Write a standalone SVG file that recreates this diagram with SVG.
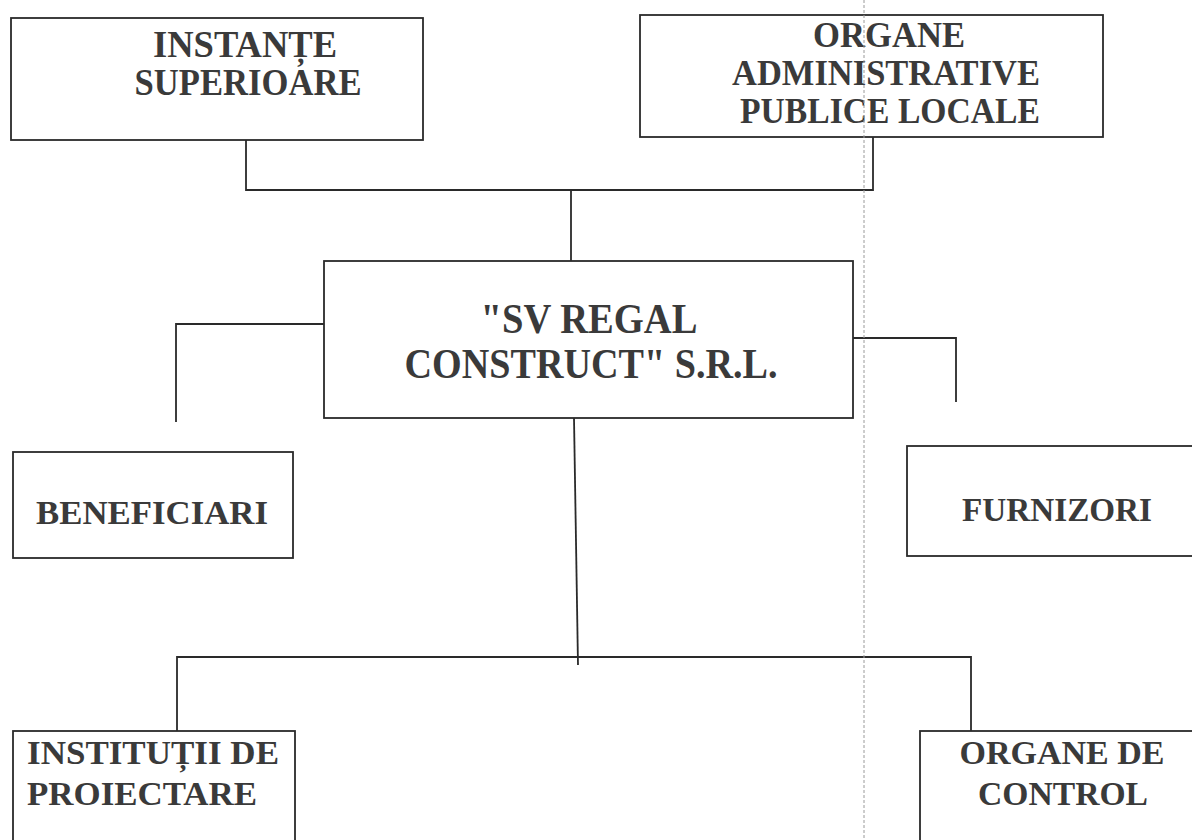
<svg xmlns="http://www.w3.org/2000/svg" width="1192" height="840" viewBox="0 0 1192 840">
<style>
.box{fill:#fff;stroke:#2a2a2a;stroke-width:1.8}
.ln{fill:none;stroke:#2a2a2a;stroke-width:1.8}
.fold{fill:none;stroke:#9a9a9a;stroke-width:1;stroke-dasharray:3 2}
text{font-family:"Liberation Serif","Times New Roman",serif;font-weight:bold;fill:#3a3a3a}
</style>
<rect width="1192" height="840" fill="#fff"/>
<g id="connectors">
<polyline class="ln" points="246,140 246,190 873,190 873,137"/>
<line class="ln" x1="571" y1="190" x2="571" y2="261"/>
<polyline class="ln" points="324,324 176,324 176,422"/>
<polyline class="ln" points="853,338 956,338 956,402"/>
<line class="ln" x1="574" y1="418" x2="578" y2="665"/>
<polyline class="ln" points="177,731 177,657 971,657 971,731"/>
</g>
<g id="n1">
<rect class="box" x="11" y="18" width="412" height="122"/>
<text x="245" y="57" font-size="37" text-anchor="middle" textLength="184" lengthAdjust="spacingAndGlyphs">INSTANȚE</text>
<text x="248" y="95" font-size="37" text-anchor="middle" textLength="227" lengthAdjust="spacingAndGlyphs">SUPERIOARE</text>
</g>
<g id="n2">
<rect class="box" x="640" y="15" width="463" height="122"/>
<text x="889" y="47" font-size="35" text-anchor="middle" textLength="152" lengthAdjust="spacingAndGlyphs">ORGANE</text>
<text x="886" y="85" font-size="35" text-anchor="middle" textLength="308" lengthAdjust="spacingAndGlyphs">ADMINISTRATIVE</text>
<text x="890" y="123" font-size="35" text-anchor="middle" textLength="300" lengthAdjust="spacingAndGlyphs">PUBLICE LOCALE</text>
</g>
<g id="n3">
<rect class="box" x="324" y="261" width="529" height="157"/>
<text x="589" y="333" font-size="43" text-anchor="middle" textLength="217" lengthAdjust="spacingAndGlyphs">"SV REGAL</text>
<text x="591" y="378" font-size="43" text-anchor="middle" textLength="373" lengthAdjust="spacingAndGlyphs">CONSTRUCT" S.R.L.</text>
</g>
<g id="n4">
<rect class="box" x="13" y="452" width="280" height="106"/>
<text x="152" y="524" font-size="34" text-anchor="middle" textLength="232" lengthAdjust="spacingAndGlyphs">BENEFICIARI</text>
</g>
<g id="n5">
<rect class="box" x="907" y="446" width="290" height="110"/>
<text x="1057" y="521" font-size="34" text-anchor="middle" textLength="190" lengthAdjust="spacingAndGlyphs">FURNIZORI</text>
</g>
<g id="n6">
<rect class="box" x="13" y="731" width="282" height="120"/>
<text x="27" y="764" font-size="34" textLength="252" lengthAdjust="spacingAndGlyphs">INSTITUȚII DE</text>
<text x="27" y="805" font-size="34" textLength="230" lengthAdjust="spacingAndGlyphs">PROIECTARE</text>
</g>
<g id="n7">
<rect class="box" x="920" y="731" width="280" height="120"/>
<text x="1062" y="764" font-size="34" text-anchor="middle" textLength="205" lengthAdjust="spacingAndGlyphs">ORGANE DE</text>
<text x="1063" y="805" font-size="34" text-anchor="middle" textLength="170" lengthAdjust="spacingAndGlyphs">CONTROL</text>
</g>
<line class="fold" x1="864" y1="0" x2="864" y2="840"/>
</svg>
